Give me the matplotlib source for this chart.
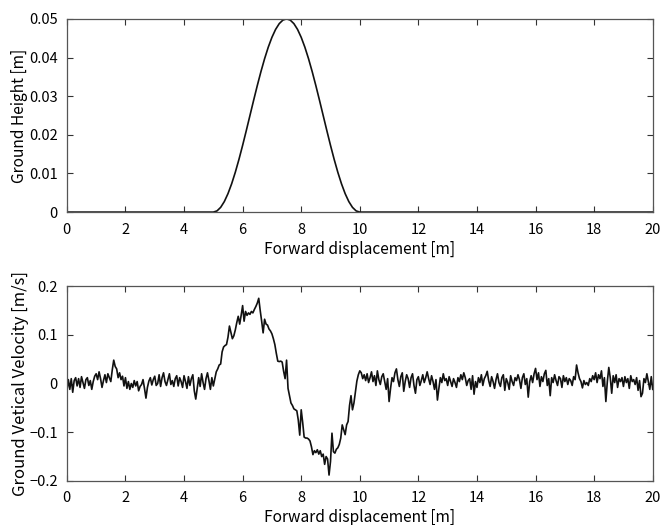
import matplotlib
matplotlib.use("Agg")
import matplotlib.pyplot as plt
import matplotlib.ticker as mticker
import numpy as np

plt.rcParams.update({
    "font.family": ["Noto Sans CJK JP", "DejaVu Sans"],
    "font.size": 10.5,
    "axes.unicode_minus": True,
})

# ground profile (bump between 5 m and 10 m), sampled every 0.125 m
bump_x = np.arange(0, 41) * 0.125 + 5.0
bump_h = [0.0, 0.000308, 0.001224, 0.002725, 0.004775, 0.007322, 0.010305,
          0.013650, 0.017275, 0.021089, 0.025, 0.028911, 0.032725, 0.036350,
          0.039695, 0.042678, 0.045225, 0.047275, 0.048776, 0.049692, 0.05,
          0.049692, 0.048776, 0.047275, 0.045225, 0.042678, 0.039695, 0.036350,
          0.032725, 0.028911, 0.025, 0.021089, 0.017275, 0.013650, 0.010305,
          0.007322, 0.004775, 0.002725, 0.001224, 0.000308, 0.0]
height_x = [0.0] + list(bump_x) + [20.0]
height_y = [0.0] + bump_h + [0.0]

# vertical velocity, every 0.05 m (one row per metre)
vel = [
    -0.015, 0.008, -0.012, 0.010, -0.018, 0.006, 0.012, -0.005, 0.010, -0.008, 0.014, 0.002, -0.010, 0.008, 0.012, -0.004, 0.006, -0.012, 0.004, 0.015,
    0.020, 0.008, 0.024, 0.010, -0.008, 0.006, 0.018, 0.002, 0.020, 0.012, 0.004, 0.028, 0.048, 0.035, 0.030, 0.012, 0.022, 0.008, 0.015, -0.005,
    0.012, -0.010, 0.004, -0.012, 0.000, -0.008, 0.006, -0.005, 0.004, -0.015, -0.006, -0.002, 0.008, -0.010, -0.030, -0.008, 0.005, 0.012, -0.003, 0.008,
    0.015, -0.004, 0.000, 0.018, -0.006, 0.012, 0.022, 0.004, -0.004, 0.008, 0.020, -0.002, 0.006, -0.006, 0.010, 0.016, -0.005, 0.012, 0.004, -0.008,
    0.016, 0.004, -0.010, 0.014, -0.004, 0.010, 0.018, -0.015, -0.032, -0.010, 0.012, -0.006, 0.020, 0.002, -0.012, 0.010, 0.022, 0.006, -0.012, 0.012,
    -0.005, 0.010, 0.024, 0.030, 0.038, 0.040, 0.065, 0.075, 0.078, 0.080, 0.095, 0.118, 0.105, 0.092, 0.098, 0.110, 0.125, 0.138, 0.122, 0.140,
    0.160, 0.128, 0.148, 0.140, 0.145, 0.142, 0.148, 0.145, 0.152, 0.158, 0.165, 0.175, 0.150, 0.128, 0.104, 0.132, 0.122, 0.120, 0.112, 0.108,
    0.102, 0.092, 0.080, 0.062, 0.046, 0.045, 0.046, 0.044, 0.025, 0.010, 0.048, -0.010, -0.025, -0.040, -0.045, -0.052, -0.054, -0.056, -0.075, -0.106,
    -0.054, -0.080, -0.110, -0.112, -0.112, -0.114, -0.118, -0.130, -0.146, -0.138, -0.142, -0.136, -0.145, -0.138, -0.150, -0.145, -0.166, -0.150, -0.155, -0.188,
    -0.160, -0.102, -0.140, -0.143, -0.135, -0.132, -0.125, -0.112, -0.085, -0.095, -0.105, -0.085, -0.078, -0.045, -0.025, -0.054, -0.040, -0.017, 0.005, 0.018,
    0.026, 0.022, 0.010, 0.018, 0.006, 0.020, 0.002, 0.012, 0.024, 0.004, 0.016, -0.004, 0.026, 0.008, -0.002, 0.014, 0.020, 0.004, -0.012, 0.010,
    -0.037, -0.010, 0.012, 0.004, 0.022, 0.030, 0.008, -0.006, 0.014, 0.022, -0.016, 0.004, 0.018, 0.010, -0.008, 0.012, 0.020, -0.004, -0.020, 0.008,
    0.014, -0.004, 0.006, 0.018, 0.002, 0.012, 0.024, 0.010, -0.002, 0.016, 0.004, -0.012, 0.008, -0.034, -0.010, 0.012, 0.002, 0.020, 0.006, 0.010,
    -0.004, 0.014, 0.004, -0.006, 0.010, 0.002, -0.008, 0.012, 0.004, 0.018, 0.008, 0.022, 0.012, -0.004, 0.006, 0.010, -0.012, 0.016, -0.022, 0.004,
    -0.008, 0.012, 0.002, 0.018, -0.004, 0.010, 0.016, 0.025, 0.006, -0.006, 0.014, 0.004, -0.010, 0.008, 0.020, 0.002, -0.006, 0.012, 0.018, -0.014,
    0.010, 0.002, -0.012, 0.016, 0.004, -0.004, 0.012, 0.006, 0.018, 0.008, -0.010, 0.012, 0.020, -0.002, 0.010, -0.028, 0.004, 0.016, 0.002, 0.020,
    0.031, 0.008, 0.022, -0.006, 0.014, 0.004, 0.020, 0.027, -0.004, 0.010, -0.025, 0.012, 0.002, 0.018, 0.006, -0.004, 0.014, 0.010, -0.008, 0.016,
    0.004, 0.012, -0.002, 0.010, 0.006, -0.004, 0.014, 0.008, 0.038, 0.022, 0.010, 0.004, -0.009, 0.006, -0.002, 0.002, -0.004, 0.010, 0.004, 0.016,
    0.008, 0.022, 0.002, 0.018, 0.010, 0.026, -0.006, 0.012, -0.037, 0.004, 0.033, 0.012, -0.020, 0.016, 0.002, 0.018, -0.008, 0.010, 0.004, 0.012,
    -0.006, 0.014, 0.002, 0.010, -0.010, 0.016, 0.004, 0.008, -0.002, 0.012, -0.014, 0.006, -0.027, -0.020, 0.010, 0.002, 0.020, 0.004, -0.012, 0.014,
    -0.012,
]
vel_x = np.arange(len(vel)) * 0.05

x_ticks = list(range(0, 21, 2))
h_ticks = [0, 0.01, 0.02, 0.03, 0.04, 0.05]
v_ticks = [-0.2, -0.1, 0, 0.1, 0.2]

fig = plt.figure(figsize=(6.62, 5.25), dpi=100)
ax1 = fig.add_axes([0.101, 0.596, 0.885, 0.368])
ax2 = fig.add_axes([0.101, 0.084, 0.885, 0.371])

fmt = mticker.FuncFormatter(lambda v, _: f"{v:g}".replace("-", "\u2212"))

def style(ax):
    ax.tick_params(direction="in", top=True, right=True, length=4,
                   width=0.8, color="#333333", labelsize=10.5)
    ax.tick_params(axis="x", pad=7.5)
    ax.tick_params(axis="y", pad=6.5)
    for s in ax.spines.values():
        s.set_color("#555555")
        s.set_linewidth(0.9)
    ax.set_xlim(0, 20)
    ax.set_xticks(x_ticks)
    ax.yaxis.set_major_formatter(fmt)
    ax.set_xlabel("Forward displacement [m]", labelpad=3, fontsize=11.2)

ax1.plot(height_x, height_y, color="#111111", lw=1.2)
ax1.set_ylim(0, 0.05)
ax1.set_yticks(h_ticks)
style(ax1)
ax1.set_ylabel("Ground Height [m]", labelpad=1, fontsize=11.2)

ax2.plot(vel_x, vel, color="#111111", lw=1.2)
ax2.set_ylim(-0.2, 0.2)
ax2.set_yticks(v_ticks)
style(ax2)
ax2.set_ylabel("Ground Vetical Velocity [m/s]", labelpad=0, fontsize=12)

fig.savefig("out.png", dpi=100)
